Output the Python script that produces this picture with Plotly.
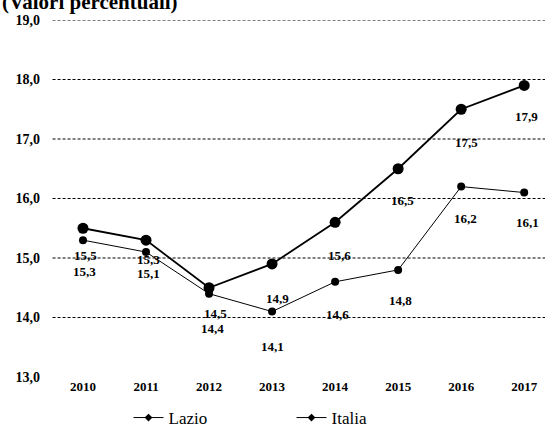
import plotly.graph_objects as go

# Tassi percentuali 2010-2017
years = ["2010", "2011", "2012", "2013", "2014", "2015", "2016", "2017"]
lazio = [15.3, 15.1, 14.4, 14.1, 14.6, 14.8, 16.2, 16.1]
italia = [15.5, 15.3, 14.5, 14.9, 15.6, 16.5, 17.5, 17.9]

y_ticks = [13, 14, 15, 16, 17, 18, 19]
grid_levels = [14, 15, 16, 17, 18, 19]

# offsets (px) of the value labels relative to each point
italia_label_dy = [-27, -19, -26, -35, -33, -32, -33, -31]
italia_label_dx = [3, 2, 6, 5, 4, 4, 5, 2]
lazio_label_dy = [-31, -21, -35, -35, -33, -31, -32, -30]
lazio_label_dx = [2, 2, 3, 0, 2, 2, 4, 3]

FONT = "Liberation Serif"


def fmt(v):
    return f"{v:.1f}".replace(".", ",")


fig = go.Figure()

fig.add_trace(go.Scatter(
    x=years, y=lazio, name="Lazio", mode="lines+markers", showlegend=False,
    line=dict(color="black", width=1),
    marker=dict(color="black", size=8, symbol="circle"),
))
fig.add_trace(go.Scatter(
    x=years, y=italia, name="Italia", mode="lines+markers", showlegend=False,
    line=dict(color="black", width=1.8),
    marker=dict(color="black", size=11, symbol="circle"),
))
# legend entries with the small key markers
for name in ["Lazio", "Italia"]:
    fig.add_trace(go.Scatter(
        x=[None], y=[None], name=name, mode="lines+markers",
        line=dict(color="black", width=1),
        marker=dict(color="black", size=6, symbol="diamond"),
    ))

annotations = []
for i, (v, dx, dy) in enumerate(zip(italia, italia_label_dx, italia_label_dy)):
    annotations.append(dict(x=i, y=v, xref="x", yref="y", text="<b>" + fmt(v) + "</b>",
                            showarrow=False, xshift=dx, yshift=dy,
                            font=dict(family=FONT, size=13, color="black")))
for i, (v, dx, dy) in enumerate(zip(lazio, lazio_label_dx, lazio_label_dy)):
    annotations.append(dict(x=i, y=v, xref="x", yref="y", text="<b>" + fmt(v) + "</b>",
                            showarrow=False, xshift=dx, yshift=dy,
                            font=dict(family=FONT, size=13, color="black")))
annotations.append(dict(x=0, xref="paper", xanchor="left", xshift=-55,
                        y=1, yref="paper", yanchor="bottom", yshift=4,
                        text="<b>(Valori percentuali)</b>", showarrow=False,
                        font=dict(family=FONT, size=21, color="black")))

shapes = [dict(type="line", xref="paper", x0=-0.005, x1=1, yref="y", y0=g, y1=g,
               line=dict(color="black", width=1, dash="3px,2px"), layer="below")
          for g in grid_levels]

fig.update_layout(
    width=545, height=436,
    margin=dict(l=55, r=0, t=20, b=58),
    paper_bgcolor="white", plot_bgcolor="white",
    font=dict(family=FONT, color="black"),
    showlegend=True,
    legend=dict(orientation="h", x=0.15, xanchor="left", y=-0.065, yanchor="top",
                entrywidth=118, font=dict(family=FONT, size=17, color="black"),
                bgcolor="rgba(0,0,0,0)"),
    annotations=annotations,
    shapes=shapes,
    xaxis=dict(type="category", range=[-0.444, 7.33], showgrid=False,
               showline=False, zeroline=False, ticks="",
               tickvals=years, ticktext=["<b>" + y + "</b>" for y in years],
               tickfont=dict(family=FONT, size=13, color="black")),
    yaxis=dict(range=[13, 19], showgrid=False, showline=False, zeroline=False,
               tickvals=y_ticks, ticktext=["<b>" + fmt(t) + "</b>" for t in y_ticks],
               ticklabelstandoff=14,
               tickfont=dict(family=FONT, size=14, color="black")),
)

fig.write_html("out.html")
